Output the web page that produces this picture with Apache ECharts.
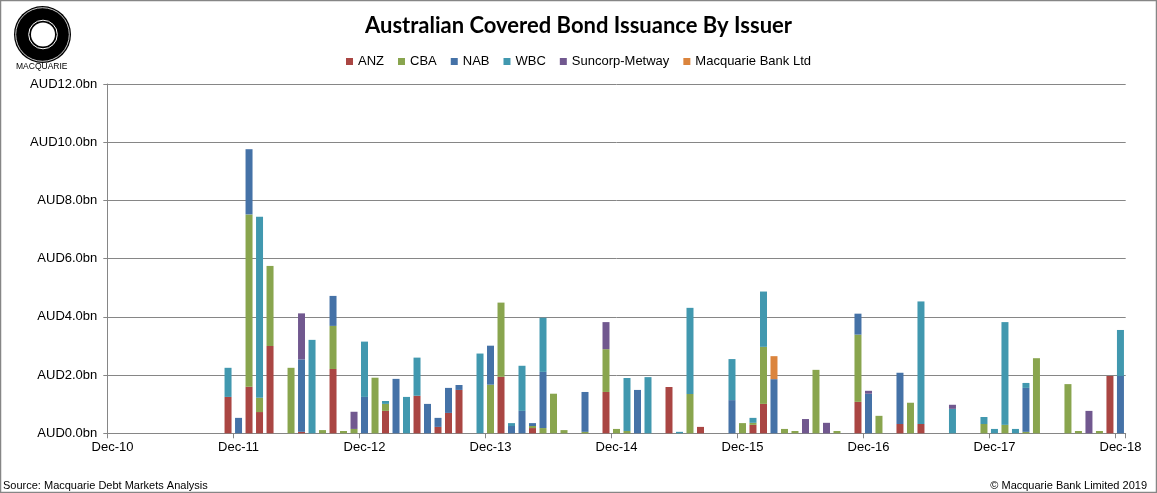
<!DOCTYPE html>
<html>
<head>
<meta charset="utf-8">
<script src="https://cdn.jsdelivr.net/npm/echarts@6/dist/echarts.min.js"></script>
<style>
html,body{margin:0;padding:0;background:#fff;}
#chart{width:1157px;height:493px;}
</style>
</head>
<body>
<div id="chart"></div>
<script>
// Month categories Dec-10 .. Dec-18
var monthNames = ['Dec','Jan','Feb','Mar','Apr','May','Jun','Jul','Aug','Sep','Oct','Nov'];
var categories = [];
for (var i = 0; i < 97; i++) {
  var yr = 10 + Math.floor((i + 11) / 12);
  categories.push(monthNames[i % 12] + '-' + yr);
}

var seriesNames = ['ANZ', 'CBA', 'NAB', 'WBC', 'Suncorp-Metway', 'Macquarie Bank Ltd'];
var seriesColors = ['#AA4643', '#89A54E', '#4572A7', '#4198AF', '#71588F', '#DB843D'];

var anz = [
  0,0,0,0,0,0,0,0,0,0,0,1.25,
  0,1.6,0.73,3.0,0,0,0.05,0,0,2.21,0,0,
  0,0,0.77,0,0,1.29,0,0.22,0.7,1.49,0,0,
  0,1.94,0,0,0.18,0,0,0,0,0,0,1.42,
  0,0,0,0,0,1.59,0,0,0.22,0,0,0,
  0,0.29,1.01,0,0,0,0,0,0,0,0,1.08,
  0,0,0,0.32,0,0.32,0,0,0,0,0,0,
  0,0,0,0,0,0,0,0,0,0,0,1.97,
  0
];
var cba = [
  0,0,0,0,0,0,0,0,0,0,0,0,
  0,5.92,0.49,2.75,0,2.25,0,0,0.11,1.48,0.08,0.15,
  0,1.91,0.24,0,0,0,0,0,0,0,0,0,
  1.67,2.55,0,0,0.07,0.18,1.36,0.11,0,0.05,0,1.47,
  0.15,0.08,0,0,0,0,0,1.35,0,0,0,0,
  0.35,0.07,1.96,0,0.15,0.08,0,2.18,0,0.08,0,2.31,
  0,0.6,0,0,1.05,0,0,0,0,0,0,0.32,
  0,0.29,0,0.05,2.58,0,0,1.69,0.08,0,0.08,0,
  0
];
var nab = [
  0,0,0,0,0,0,0,0,0,0,0,0,
  0.53,2.24,0,0,0,0,2.49,0,0,1.03,0,0,
  1.25,0,0,1.87,0,0,1.01,0.31,0.86,0.17,0,0,
  1.34,0,0.25,0.77,0.1,1.93,0,0,0,1.37,0,0,
  0,0,1.49,0,0,0,0,0,0,0,0,1.14,
  0,0,0,1.86,0,0,0,0,0,0,0,0.72,
  1.36,0,0,1.76,0,0,0,0,0,0,0,0,
  0,0,0,1.51,0,0,0,0,0,0,0,0,
  1.97
];
var wbc = [
  0,0,0,0,0,0,0,0,0,0,0,1.0,
  0,0,6.22,0,0,0,0,3.21,0,0,0,0,
  1.9,0,0.1,0,1.25,1.31,0,0,0,0,0,2.74,
  0,0,0.1,1.55,0,1.86,0,0,0,0,0,0,
  0,1.82,0,1.93,0,0,0.05,2.96,0,0,0,1.41,
  0,0.17,1.9,0,0,0,0,0,0,0,0,0,
  0,0,0,0,0,4.21,0,0,0.84,0,0,0.24,
  0.15,3.53,0.15,0.17,0,0,0,0,0,0,0,0,
  1.58
];
var suncorp = [
  0,0,0,0,0,0,0,0,0,0,0,0,
  0,0,0,0,0,0,1.58,0,0,0,0,0.59,
  0,0,0,0,0,0,0,0,0,0,0,0,
  0,0,0,0,0,0,0,0,0,0,0,0.93,
  0,0,0,0,0,0,0,0,0,0,0,0,
  0,0,0,0,0,0,0.49,0,0.36,0,0,0,
  0.1,0,0,0,0,0,0,0,0.14,0,0,0,
  0,0,0,0,0,0,0,0,0,0.77,0,0,
  0
];
var macquarie = [
  0,0,0,0,0,0,0,0,0,0,0,0,
  0,0,0,0,0,0,0,0,0,0,0,0,
  0,0,0,0,0,0,0,0,0,0,0,0,
  0,0,0,0,0,0,0,0,0,0,0,0,
  0,0,0,0,0,0,0,0,0,0,0,0,
  0,0,0,0.79,0,0,0,0,0,0,0,0,
  0,0,0,0,0,0,0,0,0,0,0,0,
  0,0,0,0,0,0,0,0,0,0,0,0,
  0
];
var seriesValues = [anz, cba, nab, wbc, suncorp, macquarie];
var yTicks = [0, 2, 4, 6, 8, 10, 12];

var FONT = '"Liberation Sans", Arial, sans-serif';
var chart = echarts.init(document.getElementById('chart'), null, {renderer: 'canvas'});

var series = seriesNames.map(function (n, k) {
  return {
    name: n,
    type: 'bar',
    stack: 'total',
    barWidth: 7,
    itemStyle: {color: seriesColors[k]},
    data: seriesValues[k].map(function (v) { return v === 0 ? null : v; })
  };
});

chart.setOption({
  animation: false,
  backgroundColor: '#fff',
  title: {
    text: 'Australian Covered Bond Issuance By Issuer',
    left: 'center',
    top: 10,
    textStyle: {fontFamily: 'Lato, "Open Sans", sans-serif', fontWeight: 'bold', fontSize: 22, color: '#000'}
  },
  legend: {
    top: 50,
    left: 'center',
    itemWidth: 7,
    itemHeight: 7,
    itemGap: 14,
    icon: 'rect',
    textStyle: {fontFamily: FONT, fontSize: 13, color: '#000'},
    data: seriesNames
  },
  grid: {left: 107.3, right: 31.3, top: 84, bottom: 59.7, containLabel: false},
  xAxis: {
    type: 'category',
    data: categories,
    boundaryGap: true,
    axisLine: {lineStyle: {color: '#868686', width: 1}},
    axisTick: {show: true, interval: 11, length: 5, lineStyle: {color: '#868686'}},
    axisLabel: {interval: 11, margin: 8, fontFamily: FONT, fontSize: 13, color: '#000'},
    splitLine: {show: false}
  },
  yAxis: {
    type: 'value',
    min: 0,
    max: 12,
    interval: 2,
    axisLine: {show: true, lineStyle: {color: '#868686', width: 1}},
    axisTick: {show: true, length: 4, lineStyle: {color: '#868686'}},
    axisLabel: {
      margin: 10,
      fontFamily: FONT,
      fontSize: 13,
      color: '#000',
      formatter: function (v) { return 'AUD' + v.toFixed(1) + 'bn'; }
    },
    splitLine: {show: true, lineStyle: {color: '#868686', width: 1}}
  },
  series: series,
  graphic: [
    {type: 'rect', shape: {x: 0.5, y: 0.5, width: 1156, height: 492}, style: {fill: 'none', stroke: '#868686', lineWidth: 1.5}, z: 100},
    {type: 'circle', shape: {cx: 42.5, cy: 34.5, r: 28.5}, style: {fill: '#000'}, z: 100},
    {type: 'circle', shape: {cx: 42.5, cy: 34.5, r: 26.8}, style: {fill: 'none', stroke: '#fff', lineWidth: 0.8}, z: 101},
    {type: 'circle', shape: {cx: 43, cy: 34.5, r: 14.3}, style: {fill: 'none', stroke: '#fff', lineWidth: 1}, z: 101},
    {type: 'circle', shape: {cx: 43, cy: 34.5, r: 12}, style: {fill: '#fff'}, z: 101},
    {type: 'text', left: 16, top: 62, style: {text: 'MACQUARIE', fontFamily: FONT, fontSize: 8.5, fill: '#000'}, z: 101},
    {type: 'text', left: 3, top: 480, style: {text: 'Source: Macquarie Debt Markets Analysis', fontFamily: FONT, fontSize: 11, fill: '#000'}, z: 101},
    {type: 'text', right: 10, top: 480, style: {text: '\u00A9 Macquarie Bank Limited 2019', fontFamily: FONT, fontSize: 11, fill: '#000'}, z: 101}
  ]
});
</script>
</body>
</html>
